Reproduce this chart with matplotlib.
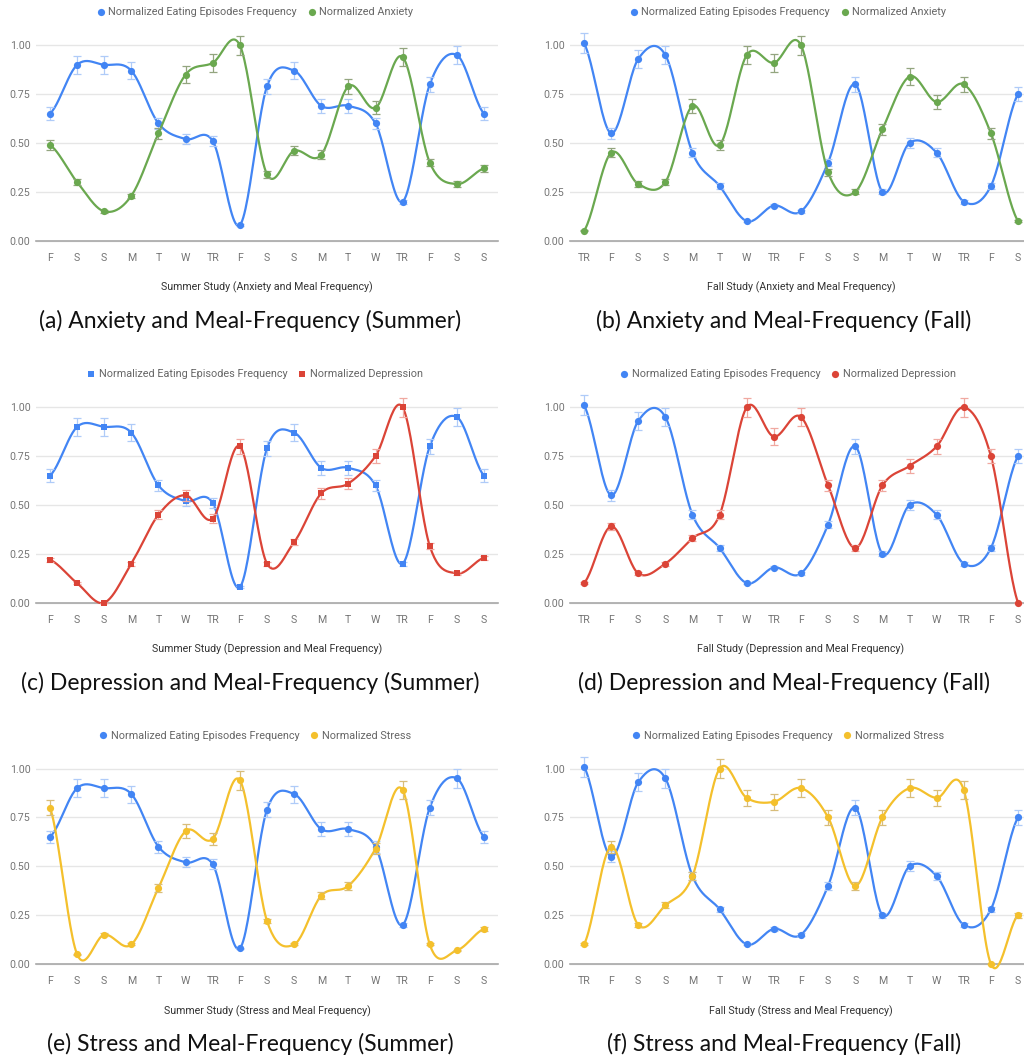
import numpy as np
import matplotlib
matplotlib.use("Agg")
import matplotlib.pyplot as plt
from matplotlib.lines import Line2D

# ---------------- data ----------------
summer_days = ["F", "S", "S", "M", "T", "W", "TR", "F", "S", "S", "M", "T", "W", "TR", "F", "S", "S"]
fall_days = ["TR", "F", "S", "S", "M", "T", "W", "TR", "F", "S", "S", "M", "T", "W", "TR", "F", "S"]

summer_eating = [0.65, 0.90, 0.90, 0.87, 0.60, 0.52, 0.51, 0.08, 0.79, 0.87, 0.69, 0.69, 0.60, 0.20, 0.80, 0.95, 0.65]
summer_anxiety = [0.49, 0.30, 0.15, 0.23, 0.55, 0.85, 0.91, 1.00, 0.34, 0.46, 0.44, 0.79, 0.68, 0.94, 0.40, 0.29, 0.37]
summer_depression = [0.22, 0.10, 0.00, 0.20, 0.45, 0.55, 0.43, 0.80, 0.20, 0.31, 0.56, 0.61, 0.75, 1.00, 0.29, 0.15, 0.23]
summer_stress = [0.80, 0.05, 0.15, 0.10, 0.39, 0.68, 0.64, 0.94, 0.22, 0.10, 0.35, 0.40, 0.59, 0.89, 0.10, 0.07, 0.18]

fall_eating = [1.01, 0.55, 0.93, 0.95, 0.45, 0.28, 0.10, 0.18, 0.15, 0.40, 0.80, 0.25, 0.50, 0.45, 0.20, 0.28, 0.75]
fall_anxiety = [0.05, 0.45, 0.29, 0.30, 0.69, 0.49, 0.95, 0.91, 1.00, 0.35, 0.25, 0.57, 0.84, 0.71, 0.80, 0.55, 0.10]
fall_depression = [0.10, 0.39, 0.15, 0.20, 0.33, 0.45, 1.00, 0.85, 0.95, 0.60, 0.28, 0.60, 0.70, 0.80, 1.00, 0.75, 0.00]
fall_stress = [0.10, 0.60, 0.20, 0.30, 0.45, 1.00, 0.85, 0.83, 0.90, 0.75, 0.40, 0.75, 0.90, 0.85, 0.89, 0.00, 0.25]

error_fraction = 0.05  # percent-style error bars (5% of value)

eating_label = "Normalized Eating Episodes Frequency"

panels = [
    # (days, eating, other, other_label, other_color, other_err_color, marker, xlabel, caption, col, row)
    (summer_days, summer_eating, summer_anxiety, "Normalized Anxiety", "#6AA84F", "#93A57F", "o",
     "Summer Study (Anxiety and Meal Frequency)", "(a) Anxiety and Meal-Frequency (Summer)", 0, 0),
    (fall_days, fall_eating, fall_anxiety, "Normalized Anxiety", "#6AA84F", "#93A57F", "o",
     "Fall Study (Anxiety and Meal Frequency)", "(b) Anxiety and Meal-Frequency (Fall)", 1, 0),
    (summer_days, summer_eating, summer_depression, "Normalized Depression", "#DB4437", "#F0A8A0", "s",
     "Summer Study (Depression and Meal Frequency)", "(c) Depression and Meal-Frequency (Summer)", 0, 1),
    (fall_days, fall_eating, fall_depression, "Normalized Depression", "#DB4437", "#F0A8A0", "o",
     "Fall Study (Depression and Meal Frequency)", "(d) Depression and Meal-Frequency (Fall)", 1, 1),
    (summer_days, summer_eating, summer_stress, "Normalized Stress", "#F4C02C", "#D8BD7A", "o",
     "Summer Study (Stress and Meal Frequency)", "(e) Stress and Meal-Frequency (Summer)", 0, 2),
    (fall_days, fall_eating, fall_stress, "Normalized Stress", "#F4C02C", "#D8BD7A", "o",
     "Fall Study (Stress and Meal Frequency)", "(f) Stress and Meal-Frequency (Fall)", 1, 2),
]

BLUE = "#4285F4"
BLUE_ERR = "#AFCBF8"


def catmull_rom(y, n=24):
    y = np.asarray(y, dtype=float)
    x = np.arange(len(y), dtype=float)
    m = np.zeros_like(y)
    m[1:-1] = (y[2:] - y[:-2]) / 2.0
    m[0] = (y[1] - y[0]) / 2.0
    m[-1] = (y[-1] - y[-2]) / 2.0
    xs, ys = [], []
    t = np.linspace(0, 1, n, endpoint=False)
    h00 = 2 * t**3 - 3 * t**2 + 1
    h10 = t**3 - 2 * t**2 + t
    h01 = -2 * t**3 + 3 * t**2
    h11 = t**3 - t**2
    for i in range(len(y) - 1):
        xs.append(x[i] + t)
        ys.append(h00 * y[i] + h10 * m[i] + h01 * y[i + 1] + h11 * m[i + 1])
    xs.append([x[-1]])
    ys.append([y[-1]])
    return np.concatenate(xs), np.concatenate(ys)


W, H = 1024, 1061
fig = plt.figure(figsize=(W / 100, H / 100), dpi=100)
fig.patch.set_facecolor("white")

SCALE = 195.4
YMIN, YMAX = -0.1, 1.1
baselines = [240.7, 602.7, 964.0]
ax_left_px = [36.4, 570.4]
ax_w_px = 461.2
legend_cx = [255.0, 788.0]
caption_cx = [250.5, 784.0]

CHART_FONT = "Roboto"
CAP_FONT = "Lato"
TXT_GRAY = "#757575"


def fy(ypx):
    return 1 - ypx / H


for (days, eat, other, olabel, ocolor, oerr, mk, xlabel, caption, col, row) in panels:
    base = baselines[row]
    bottom_px = base - YMIN * SCALE
    top_px = base - YMAX * SCALE
    rect = [ax_left_px[col] / W, fy(bottom_px), ax_w_px / W, (bottom_px - top_px) / H]
    ax = fig.add_axes(rect)
    ax.set_xlim(-0.5, 16.5)
    ax.set_ylim(YMIN, YMAX)
    ax.patch.set_alpha(0)
    for s in ["top", "right", "left"]:
        ax.spines[s].set_visible(False)
    ax.spines["bottom"].set_position(("data", 0))
    ax.spines["bottom"].set_color("#A8A8A8")
    ax.spines["bottom"].set_linewidth(1.2)
    ax.spines["bottom"].set_zorder(1.5)

    ax.set_yticks([0.0, 0.25, 0.5, 0.75, 1.0])
    ax.set_yticklabels(["0.00", "0.25", "0.50", "0.75", "1.00"])
    ax.set_xticks(range(len(days)))
    ax.set_xticklabels(days)
    ax.tick_params(axis="both", length=0, labelsize=7.7, labelcolor=TXT_GRAY)
    ax.tick_params(axis="x", pad=9)
    ax.tick_params(axis="y", pad=4.2)
    for lab in ax.get_xticklabels() + ax.get_yticklabels():
        lab.set_fontfamily(CHART_FONT)
    ax.yaxis.grid(True, color="#E6E6E6", linewidth=1.0)
    ax.set_axisbelow(True)

    x = np.arange(len(days))
    ms = 5.2 if mk == "o" else 4.0
    for vals, c, ec, z in [(eat, BLUE, BLUE_ERR, 3), (other, ocolor, oerr, 4)]:
        vals = np.asarray(vals)
        sx, sy = catmull_rom(vals)
        ax.plot(sx, sy, color=c, linewidth=1.6, zorder=z, solid_capstyle="round")
        ax.errorbar(x, vals, yerr=vals * error_fraction, fmt="none", ecolor=ec,
                    elinewidth=0.9, capsize=2.6, capthick=0.9, zorder=z + 0.1)
        ax.plot(x, vals, linestyle="none", marker=mk, markersize=ms, color=c,
                markeredgewidth=0, zorder=z + 0.2)

    ax.set_xlabel(xlabel, fontsize=7.7, color="#333333", fontfamily=CHART_FONT)
    ax.xaxis.set_label_coords(0.5, (bottom_px - (base + 47.0)) / (bottom_px - top_px))
    ax.xaxis.label.set_va("center")

    handles = [
        Line2D([], [], linestyle="none", marker=mk, markersize=ms, color=BLUE, markeredgewidth=0),
        Line2D([], [], linestyle="none", marker=mk, markersize=ms, color=ocolor, markeredgewidth=0),
    ]
    leg = fig.legend(handles, [eating_label, olabel], loc="center",
                     bbox_to_anchor=(legend_cx[col] / W, fy(base - 228.4)),
                     ncol=2, frameon=False, handlelength=0.7, handletextpad=0.35,
                     columnspacing=1.0, borderaxespad=0, borderpad=0,
                     prop={"family": CHART_FONT, "size": 7.8})
    for t in leg.get_texts():
        t.set_color("#666666")

    fig.text(caption_cx[col] / W, fy(base + 80.0), caption, ha="center", va="center",
             fontsize=16.5, fontfamily=CAP_FONT, color="#111111")

fig.savefig("out.png", dpi=100, facecolor="white")
